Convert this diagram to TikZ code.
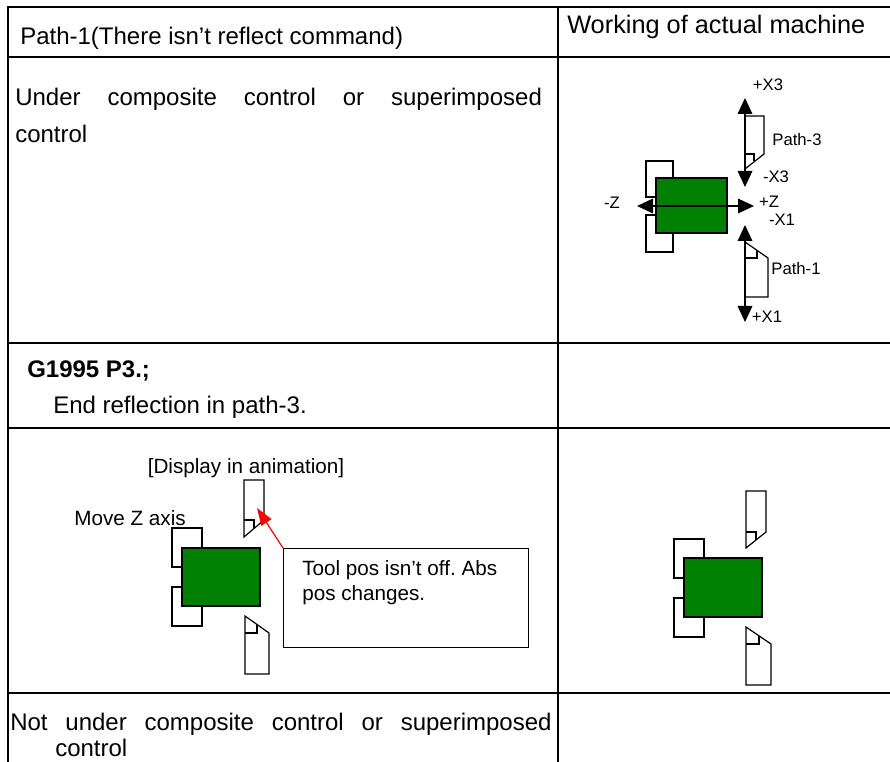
\documentclass[tikz,border=0pt]{standalone}
\usepackage{fontspec}
\setmainfont{Liberation Sans}
\usepackage{xcolor}
\usetikzlibrary{arrows.meta}
\definecolor{chuckgreen}{RGB}{0,128,0}
\frenchspacing

\begin{document}
\begin{tikzpicture}[x=0.75pt,y=-0.75pt,
                grid/.style={line width=1.5pt},
                part/.style={draw,line width=0.9pt,fill=white},
                work/.style={draw,line width=0.9pt,fill=chuckgreen},
                notch/.style={line width=0.9pt},
                axis/.style={line width=0.9pt,{Triangle[length=12pt,width=11pt]}-{Triangle[length=12pt,width=11pt]}},
                pointer/.style={red,line width=0.9pt,-{Triangle[length=13pt,width=9pt]}},
                lbl/.style={font=\fontsize{12.5}{14}\selectfont,inner sep=0pt},
                note/.style={font=\fontsize{15.5}{18.75}\selectfont,inner sep=0pt},
                txt/.style={font=\fontsize{18}{20}\selectfont,inner sep=0pt,anchor=west}]
                \useasboundingbox (0,0) rectangle (890,762);

                \draw[grid] (8,762) -- (8,7) -- (890,7);
                \draw[grid] (558,7) -- (558,762);
                \foreach \y in {57,343,428,693}
                    \draw[grid] (8,\y) -- (890,\y);

                \node[txt] (headpath) at (20,38) {Path-1(There isn’t reflect command)};
                \node[txt,font=\fontsize{19}{21}\selectfont] (headwork) at (567,27) {Working of actual machine};
                \node[txt] (underctl) at (15,99) {\makebox[395pt][s]{Under composite control or superimposed}};
                \node[txt] (underctlb) at (15,134) {control};
                \node[txt] (gcode) at (27,371) {\bfseries G1995 P3.;};
                \node[txt] (endrefl) at (53,407) {End reflection in path-3.};
                \node[txt] (notctl) at (10,724) {\makebox[406pt][s]{Not under composite control or superimposed}};
                \node[txt] (notctlb) at (55,748) {control};

                \draw[part] (646,161) rectangle (673,197);
                \draw[part] (646,215) rectangle (673,252);
                \draw[work] (656,178) rectangle (727,233);
                \draw[part] (745,116) -- (764,116) -- (764,154) -- (745,169) -- cycle;
                \draw[notch] (745,154) -- (754,154) -- (754,161);
                \draw[part] (745,242) -- (768,258) -- (768,297) -- (745,297) -- cycle;
                \draw[notch] (745,258) -- (757,258) -- (757,250.3);

                \coordinate (xthreetop) at (745,98);
                \coordinate (xthreebot) at (745,187);
                \coordinate (zleft) at (637,206);
                \coordinate (zright) at (754,206);
                \coordinate (xonetop) at (745,225);
                \coordinate (xonebot) at (745,322);
                \draw[axis] (xthreetop) -- (xthreebot);
                \draw[axis] (zleft) -- (zright);
                \draw[axis] (xonetop) -- (xonebot);

                \node[lbl] (xthreeplus) at (768,85) {+X3};
                \node[lbl] (paththree) at (797,140) {Path-3};
                \node[lbl] (xthreeminus) at (776,177) {-X3};
                \node[lbl] (zplus) at (769,202) {+Z};
                \node[lbl] (zminus) at (612,203) {-Z};
                \node[lbl] (xoneminus) at (782,220) {-X1};
                \node[lbl] (pathone) at (796,269) {Path-1};
                \node[lbl] (xoneplus) at (767,317) {+X1};

                \node[note] (anim) at (246,468) {[Display in animation]};
                \node[note] (movez) at (130,518) {Move Z axis};
                \draw[part] (172,528) rectangle (202,567);
                \draw[part] (172,587) rectangle (202,626);
                \draw[work] (182,548) rectangle (260,606);
                \draw[part] (244,480) -- (264,480) -- (264,520) -- (244,537) -- cycle;
                \draw[notch] (244,520) -- (254,520) -- (254,528.5);
                \draw[part] (245,616) -- (269,633) -- (269,674) -- (245,674) -- cycle;
                \draw[notch] (245,633) -- (257,633) -- (257,624.5);

                \node[draw,line width=0.9pt,anchor=north west,minimum width=183.75pt,minimum height=74.25pt,inner sep=0pt] (toolnote) at (283,548) {};
                \node[note,anchor=west,align=left] (notetext) at (302,582.5) {Tool pos isn’t off. Abs\\pos changes.};
                \coordinate (tooltip) at (257,508);
                \draw[pointer] (toolnote.north west) -- (tooltip);

                \draw[part] (674,539) rectangle (704,578);
                \draw[part] (674,598) rectangle (704,637);
                \draw[work] (684,558) rectangle (762,617);
                \draw[part] (746,491) -- (766,491) -- (766,532) -- (746,548) -- cycle;
                \draw[notch] (746,532) -- (756,532) -- (756,540);
                \draw[part] (746,627) -- (771,644) -- (771,685) -- (746,685) -- cycle;
                \draw[notch] (746,644) -- (759,644) -- (759,635.8);
\end{tikzpicture}
\end{document}
